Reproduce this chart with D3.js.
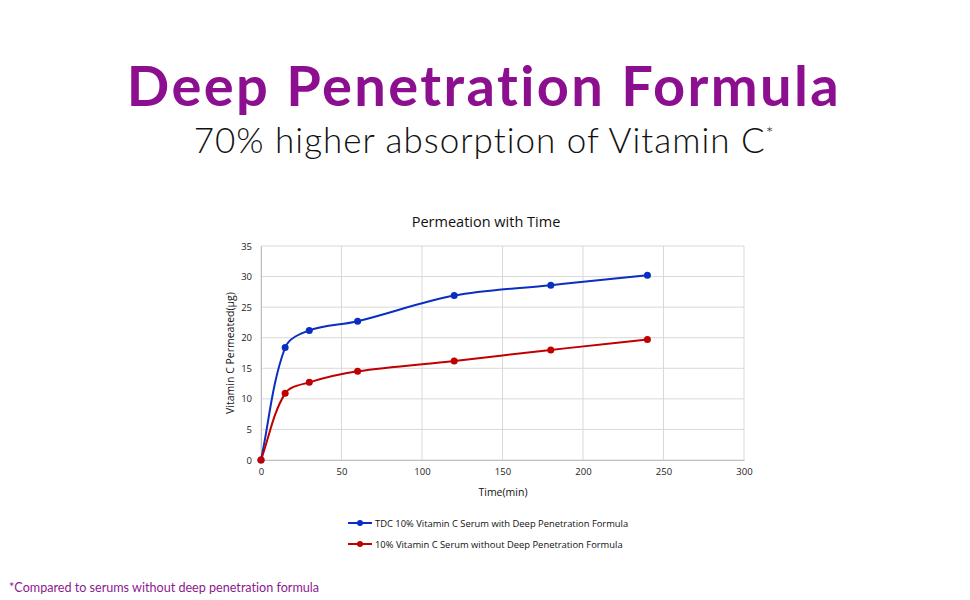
<!DOCTYPE html>
<html>
<head>
<meta charset="utf-8">
<script src="https://cdn.jsdelivr.net/npm/d3@7"></script>
<style>
body { margin: 0; background: #fff; }
svg { display: block; }
text { font-variant-ligatures: none; }
</style>
</head>
<body>
<div id="chart-area"></div>
<script>
// data
var times = [0, 15, 30, 60, 120, 180, 240];
var withFormula = [0, 18.4, 21.2, 22.7, 26.9, 28.6, 30.2];
var withoutFormula = [0, 10.9, 12.7, 14.5, 16.2, 18.0, 19.7];
var seriesNames = ["TDC 10% Vitamin C Serum with Deep Penetration Formula",
	"10% Vitamin C Serum without Deep Penetration Formula"];
var seriesColors = ["#0a2fc0", "#c00000"];
var xTicks = [0, 50, 100, 150, 200, 250, 300];
var yTicks = [0, 5, 10, 15, 20, 25, 30, 35];

var W = 970, H = 600;
var svg = d3.select("#chart-area").append("svg")
	.attr("width", W).attr("height", H);

var chartFont = "'Open Sans', 'Liberation Sans', sans-serif";

// headings
svg.append("text")
	.attr("x", 484).attr("y", 106)
	.attr("text-anchor", "middle")
	.style("font-family", "Lato, 'Open Sans', sans-serif")
	.style("font-weight", 700)
	.style("font-size", "56px")
	.style("letter-spacing", "2.4px")
	.style("fill", "#8b0f8f")
	.text("Deep Penetration Formula");

svg.append("text")
	.attr("x", 484).attr("y", 153)
	.attr("text-anchor", "middle")
	.style("font-family", "Lato, 'Open Sans', sans-serif")
	.style("font-weight", 300)
	.style("font-size", "35px")
	.style("letter-spacing", "1px")
	.style("fill", "#111")
	.text("70% higher absorption of Vitamin C")
	.append("tspan")
	.attr("dy", -13)
	.style("font-size", "18px")
	.text("*");

// scales
var xScale = d3.scaleLinear().domain([0, 300]).range([261, 744]);
var yScale = d3.scaleLinear().domain([0, 35]).range([460, 246]);

// grid
var grid = svg.append("g");
grid.selectAll(".gx").data(xTicks).enter().append("line")
	.attr("x1", d => xScale(d)).attr("x2", d => xScale(d))
	.attr("y1", yScale(0)).attr("y2", yScale(35))
	.style("stroke", "#d9d9d9");
grid.selectAll(".gy").data(yTicks).enter().append("line")
	.attr("x1", xScale(0)).attr("x2", xScale(300))
	.attr("y1", d => yScale(d)).attr("y2", d => yScale(d))
	.style("stroke", "#d9d9d9");

// axes (labels only)
var xAxis = d3.axisBottom(xScale).tickValues(xTicks).tickSize(0).tickPadding(8);
var yAxis = d3.axisLeft(yScale).tickValues(yTicks).tickSize(0).tickPadding(9);

var xg = svg.append("g").attr("transform", "translate(0," + yScale(0) + ")").call(xAxis);
var yg = svg.append("g").attr("transform", "translate(" + xScale(0) + ",0)").call(yAxis);
[xg, yg].forEach(function(g) {
	g.select(".domain").style("stroke", "#bfbfbf");
	g.selectAll("text")
		.style("font-family", chartFont)
		.style("font-size", "9.5px")
		.style("fill", "#222");
});

// titles
svg.append("text")
	.attr("x", 486).attr("y", 227)
	.attr("text-anchor", "middle")
	.style("font-family", chartFont)
	.style("font-size", "14.5px")
	.style("fill", "#111")
	.text("Permeation with Time");

svg.append("text")
	.attr("x", 503).attr("y", 496)
	.attr("text-anchor", "middle")
	.style("font-family", chartFont)
	.style("font-size", "10.5px")
	.style("fill", "#111")
	.text("Time(min)");

svg.append("text")
	.attr("transform", "translate(234,353) rotate(-90)")
	.attr("text-anchor", "middle")
	.style("font-family", chartFont)
	.style("font-size", "10.5px")
	.style("fill", "#111")
	.text("Vitamin C Permeated(µg)");

// lines
var series = [withFormula, withoutFormula].map(function(vals, i) {
	return { name: seriesNames[i], color: seriesColors[i],
		points: times.map((t, j) => ({ t: t, v: vals[j] })) };
});

// Excel-like smoothing: tangent along neighbours, handle length scaled by segment length
function smoothPath(points) {
	var p = points.map(d => [xScale(d.t), yScale(d.v)]);
	var n = p.length;
	var dist = (a, b) => Math.hypot(b[0] - a[0], b[1] - a[1]);
	var dirs = p.map(function(pt, i) {
		var a = p[Math.max(i - 1, 0)], b = p[Math.min(i + 1, n - 1)];
		var l = dist(a, b) || 1;
		return [(b[0] - a[0]) / l, (b[1] - a[1]) / l];
	});
	var path = d3.path();
	path.moveTo(p[0][0], p[0][1]);
	for (var i = 0; i < n - 1; i++) {
		var len = dist(p[i], p[i + 1]) / 3;
		var c1 = [p[i][0] + dirs[i][0] * len, p[i][1] + dirs[i][1] * len];
		var c2 = [p[i + 1][0] - dirs[i + 1][0] * len, p[i + 1][1] - dirs[i + 1][1] * len];
		path.bezierCurveTo(c1[0], c1[1], c2[0], c2[1], p[i + 1][0], p[i + 1][1]);
	}
	return path.toString();
}

var sg = svg.selectAll(".series").data(series).enter().append("g");
sg.append("path")
	.attr("d", d => smoothPath(d.points))
	.style("fill", "none")
	.style("stroke", d => d.color)
	.style("stroke-width", 2);
sg.selectAll("circle").data(d => d.points.map(p => ({ p: p, c: d.color })))
	.enter().append("circle")
	.attr("cx", d => xScale(d.p.t))
	.attr("cy", d => yScale(d.p.v))
	.attr("r", 3.5)
	.style("fill", d => d.c);

// legend
var legend = svg.selectAll(".legend").data(series).enter().append("g")
	.attr("transform", (d, i) => "translate(348," + (523 + i * 21) + ")");
legend.append("line")
	.attr("x1", 0).attr("x2", 24)
	.style("stroke", d => d.color).style("stroke-width", 2);
legend.append("circle").attr("cx", 12).attr("r", 3).style("fill", d => d.color);
legend.append("text")
	.attr("x", 27).attr("y", 3.5)
	.style("font-family", chartFont)
	.style("font-size", "9.4px")
	.style("fill", "#111")
	.text(d => d.name);

// footnote
svg.append("text")
	.attr("x", 9).attr("y", 592)
	.style("font-family", "Lato, 'Open Sans', sans-serif")
	.style("font-size", "12.6px")
	.style("fill", "#8b1a8f")
	.text("*Compared to serums without deep penetration formula");
</script>
</body>
</html>
